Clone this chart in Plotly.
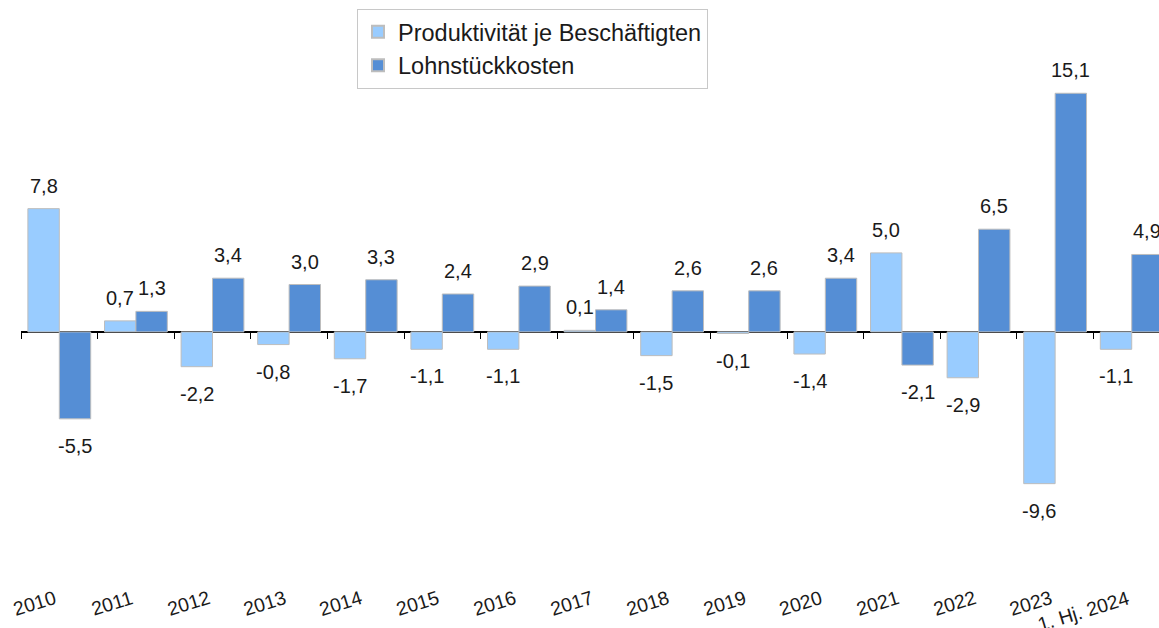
import plotly.graph_objects as go

categories = ["2010", "2011", "2012", "2013", "2014", "2015", "2016", "2017",
              "2018", "2019", "2020", "2021", "2022", "2023", "1. Hj. 2024"]
produktivitaet = [7.8, 0.7, -2.2, -0.8, -1.7, -1.1, -1.1, 0.1, -1.5, -0.1, -1.4, 5.0, -2.9, -9.6, -1.1]
lohnstueckkosten = [-5.5, 1.3, 3.4, 3.0, 3.3, 2.4, 2.9, 1.4, 2.6, 2.6, 3.4, -2.1, 6.5, 15.1, 4.9]

series_names = ["Produktivität je Beschäftigten", "Lohnstückkosten"]
colors = ["#99CCFF", "#558ED5"]

FONT = "Liberation Sans, Arial, sans-serif"
W, H = 1159, 628
ML, MR, MT, MB = 21, 0, 0, 68
BARGAP = 0.18
X_RANGE = [-0.5, 14.356]
Y_RANGE = [-14.43, 21.0]

fig = go.Figure()
for name, vals, col in zip(series_names, [produktivitaet, lohnstueckkosten], colors):
    fig.add_trace(go.Bar(
        x=categories, y=vals, name=name,
        marker=dict(color=col, line=dict(color="#BDBDBD", width=1)),
        hoverinfo="skip",
    ))

# invisible helper trace so the tick axis on the zero line gets its categories
fig.add_trace(go.Scatter(
    x=categories, y=[0] * len(categories), xaxis="x2", mode="markers",
    marker=dict(opacity=0, size=1), showlegend=False, hoverinfo="skip",
))

def fmt(v):
    return f"{v:.1f}".replace(".", ",")

annotations = []
half = (1 - BARGAP) / 4
for s, vals in enumerate([produktivitaet, lohnstueckkosten]):
    off = -half if s == 0 else half
    for i, v in enumerate(vals):
        pos = v >= 0
        annotations.append(dict(
            x=i + off, y=v, xref="x", yref="y", text=fmt(v), showarrow=False,
            yanchor="bottom" if pos else "top", yshift=10 if pos else -14,
            font=dict(family=FONT, size=20, color="#1a1a1a"),
        ))

# rotated category labels below the chart
for i, c in enumerate(categories):
    annotations.append(dict(
        x=i, y=0, xref="x", yref="paper", text=c, showarrow=False,
        textangle=-17, xanchor="right", yanchor="top",
        xshift=2, yshift=-24,
        font=dict(family=FONT, size=19.5, color="#1a1a1a"),
    ))

zero_pos = (0 - Y_RANGE[0]) / (Y_RANGE[1] - Y_RANGE[0])

fig.update_layout(
    width=W, height=H,
    margin=dict(l=ML, r=MR, t=MT, b=MB, pad=0),
    paper_bgcolor="white", plot_bgcolor="white",
    barmode="group", bargap=BARGAP, bargroupgap=0,
    font=dict(family=FONT, color="#1a1a1a"),
    xaxis=dict(type="category", categoryorder="array", categoryarray=categories,
               range=X_RANGE, showticklabels=False, ticks="", showline=False,
               showgrid=False, zeroline=False, fixedrange=True),
    xaxis2=dict(type="category", categoryorder="array", categoryarray=categories,
                overlaying="x", anchor="free", position=zero_pos, side="bottom",
                range=X_RANGE, showticklabels=False, ticks="outside",
                tickson="boundaries", ticklen=6, tickwidth=1, tickcolor="#000000",
                showline=False, showgrid=False, zeroline=False, fixedrange=True),
    yaxis=dict(range=Y_RANGE, showticklabels=False, showgrid=False, ticks="",
               zeroline=True, zerolinecolor="#000000", zerolinewidth=1.5,
               showline=False, fixedrange=True),
    legend=dict(x=(357 - ML) / (W - ML - MR), y=1 - 9 / (H - MT - MB),
                xanchor="left", yanchor="top",
                bordercolor="#C8C8C8", borderwidth=1, bgcolor="white",
                font=dict(family=FONT, size=23.5, color="#1a1a1a"),
                traceorder="normal", itemsizing="constant"),
    annotations=annotations,
    showlegend=True,
)

fig.write_html("out.html")
